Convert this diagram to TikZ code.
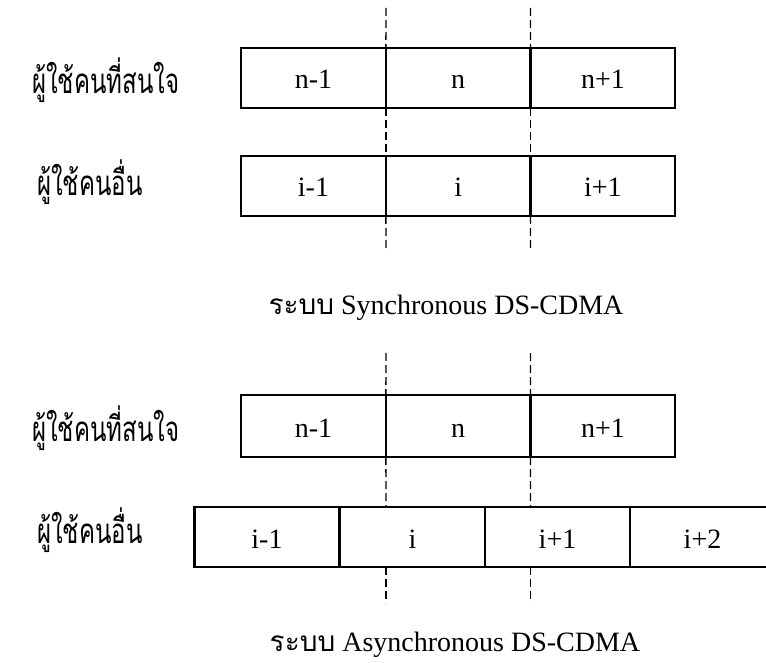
\documentclass[tikz,border=0pt]{standalone}
\usepackage{fontspec}
\setmainfont{Liberation Serif}
\newfontfamily\thai[Script=Thai]{Loma}
\newcommand{\tallthai}[1]{\scalebox{1}[1.45]{\thai #1}}
\begin{document}
\begin{tikzpicture}[x=1pt,y=-1pt,
  cell/.style={draw, line width=2.4pt, minimum width=144.7pt, minimum height=60pt,
    inner sep=0pt, outer sep=0pt, text height=22pt, text depth=0pt,
    font=\fontsize{28}{32}\selectfont},
  guide/.style={line width=1.3pt, dash pattern=on 8pt off 4pt},
  who/.style={anchor=west, inner sep=0pt, font=\fontsize{24}{28}\selectfont},
  caption/.style={anchor=base, inner sep=0pt, text height=20pt, text depth=0pt,
    font=\fontsize{28}{32}\selectfont}]
\useasboundingbox (0,0) rectangle (766,663);

% ---- synchronous system ----
\node[cell] (a1) at (313.5,78) {n-1};
\node[cell] (a2) at (458.2,78) {n};
\node[cell] (a3) at (602.9,78) {n+1};
\node[cell] (b1) at (313.5,186) {i-1};
\node[cell] (b2) at (458.2,186) {i};
\node[cell] (b3) at (602.9,186) {i+1};
\node[who] (la) at (32,80) {\tallthai{ผู้ใช้คนที่สนใจ}};
\node[who] (lb) at (37,182) {\tallthai{ผู้ใช้คนอื่น}};
\coordinate (ta1) at (386,8);
\coordinate (ta2) at (530.5,8);
\coordinate (ea1) at (386,250);
\coordinate (ea2) at (530.5,250);
\draw[guide] (ta1) -- (a1.north east);
\draw[guide] (ta2) -- (a2.north east);
\draw[guide] (a1.south east) -- (b1.north east);
\draw[guide] (a2.south east) -- (b2.north east);
\draw[guide] (b1.south east) -- (ea1);
\draw[guide] (b2.south east) -- (ea2);
\node[caption] (capa) at (446,314) {{\thai ระบบ} Synchronous DS-CDMA};

% ---- asynchronous system ----
\node[cell, minimum height=62pt] (c1) at (313.5,426) {n-1};
\node[cell, minimum height=62pt] (c2) at (458.2,426) {n};
\node[cell, minimum height=62pt] (c3) at (602.9,426) {n+1};
\node[cell] (d1) at (267,537) {i-1};
\node[cell] (d2) at (412.5,537) {i};
\node[cell] (d3) at (557.5,537) {i+1};
\node[cell] (d4) at (702.5,537) {i+2};
\node[who] (lc) at (32,428) {\tallthai{ผู้ใช้คนที่สนใจ}};
\node[who] (ld) at (37,530) {\tallthai{ผู้ใช้คนอื่น}};
\coordinate (tc1) at (386,353);
\coordinate (tc2) at (530.5,353);
\coordinate (mc1) at (386,507);
\coordinate (mc2) at (530.5,507);
\coordinate (bc1) at (386,567);
\coordinate (bc2) at (530.5,567);
\coordinate (ec1) at (386,603);
\coordinate (ec2) at (530.5,603);
\draw[guide] (tc1) -- (c1.north east);
\draw[guide] (tc2) -- (c2.north east);
\draw[guide] (c1.south east) -- (mc1);
\draw[guide] (c2.south east) -- (mc2);
\draw[guide] (bc1) -- (ec1);
\draw[guide] (bc2) -- (ec2);
\node[caption] (capc) at (455,651) {{\thai ระบบ} Asynchronous DS-CDMA};
\end{tikzpicture}
\end{document}
